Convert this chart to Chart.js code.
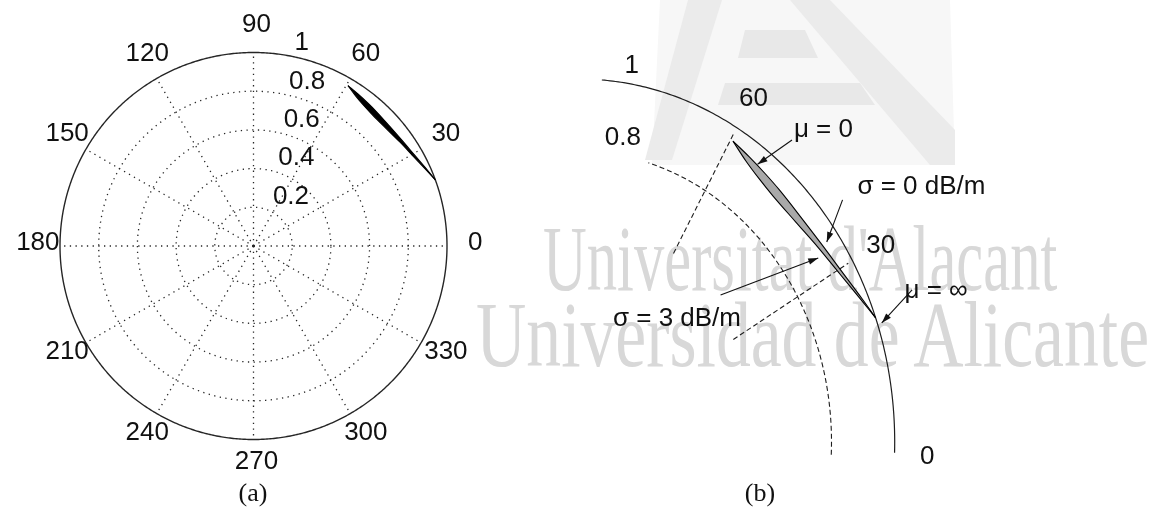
<!DOCTYPE html>
<html>
<head>
<meta charset="utf-8">
<script src="https://cdn.jsdelivr.net/npm/chart.js@4.4.0/dist/chart.umd.min.js"></script>
<style>
  body { margin: 0; background: #fff; width: 1153px; height: 513px; position: relative; overflow: hidden; }
  .wm { position: absolute; color: #d8d8d8; font-family: "Liberation Serif", "Times New Roman", serif; font-size: 94px;
        line-height: 1; white-space: nowrap; transform-origin: 0 0; }
  .cap { position: absolute; top: 480px; width: 80px; margin-left: -40px; text-align: center; color: #111;
         font-family: "Liberation Serif", "Times New Roman", serif; font-size: 26px; line-height: 1; }
  svg, canvas { position: absolute; top: 0; }
</style>
</head>
<body>
<svg width="1153" height="180" style="left:0">
  <polygon points="660,0 950,0 955,165 652,165" fill="#f7f7f7"/>
  <polygon points="688,0 722,0 672,160 645,160" fill="#ebebeb"/>
  <polygon points="790,0 830,0 955,130 955,165 930,165" fill="#ebebeb"/>
  <polygon points="745,30 805,30 818,58 738,58" fill="#e8e8e8"/>
  <polygon points="725,83 860,83 875,105 718,105" fill="#e8e8e8"/>
</svg>
<div class="wm" style="left:543px; top:211px; transform:scaleX(0.645)">Universitat d'Alacant</div>
<div class="wm" style="left:476px; top:287px; transform:scaleX(0.741)">Universidad de Alicante</div>
<canvas id="polarFull" width="560" height="480" style="left:0"></canvas>
<canvas id="polarZoom" width="593" height="480" style="left:560px"></canvas>
<div class="cap" style="left:253px">(a)</div>
<div class="cap" style="left:760px">(b)</div>

<script>
const DEG = Math.PI / 180;

// full polar view: angular ticks (deg) and radial ticks
const angleTicks = [0, 30, 60, 90, 120, 150, 180, 210, 240, 270, 300, 330];
const radialTicks = [0.2, 0.4, 0.6, 0.8, 1];

// ticks kept in the zoomed view
const zoomAngleTicks = [0, 30, 60];
const zoomRadialTicks = [0.8, 1];

// edges of the reflection locus, from mu = 0 (first point) to mu = infinity (last point)
const sigma0Angle = [59.5, 55.5, 51.5, 47.5, 41.4, 35.4, 29.4, 23.7, 20.0];
const sigma0Mag   = [0.962, 0.953, 0.946, 0.941, 0.937, 0.942, 0.956, 0.980, 1.000];
const sigma3Angle = [59.5, 55.7, 51.8, 47.7, 41.4, 35.3, 29.3, 23.6, 20.0];
const sigma3Mag   = [0.962, 0.938, 0.923, 0.915, 0.916, 0.928, 0.947, 0.976, 1.000];

const notes = ['μ = 0', 'σ = 0 dB/m', 'σ = 3 dB/m', 'μ = ∞'];

const FONT = '26px "Liberation Sans", Arial, Helvetica, sans-serif';

function toXY(angles, mags) {
  return angles.map((a, i) => ({ x: mags[i] * Math.cos(a * DEG), y: mags[i] * Math.sin(a * DEG) }));
}

// axis limits so that the pole sits at (cx, cy) and r = 1 spans rx / ry pixels
function frame(cx, cy, rx, ry, w, h) {
  return {
    x: { type: 'linear', display: false, min: -cx / rx, max: (w - cx) / rx },
    y: { type: 'linear', display: false, min: -(h - cy) / ry, max: cy / ry }
  };
}

function polarPx(chart, t, r) {
  const { x, y } = chart.scales;
  return [x.getPixelForValue(r * Math.cos(t * DEG)), y.getPixelForValue(r * Math.sin(t * DEG))];
}

function arc(chart, r, from, to, dash, width) {
  const ctx = chart.ctx;
  ctx.save();
  ctx.setLineDash(dash);
  ctx.lineWidth = width;
  ctx.beginPath();
  for (let t = from; t <= to + 1e-9; t += 0.5) {
    const [px, py] = polarPx(chart, t, r);
    t === from ? ctx.moveTo(px, py) : ctx.lineTo(px, py);
  }
  ctx.stroke();
  ctx.restore();
}

function spoke(chart, t, r0, r1, dash, width) {
  const ctx = chart.ctx;
  const a = polarPx(chart, t, r0), b = polarPx(chart, t, r1);
  ctx.save();
  ctx.setLineDash(dash);
  ctx.lineWidth = width;
  ctx.beginPath();
  ctx.moveTo(a[0], a[1]);
  ctx.lineTo(b[0], b[1]);
  ctx.stroke();
  ctx.restore();
}

function arrow(ctx, x0, y0, x1, y1) {
  const a = Math.atan2(y1 - y0, x1 - x0), L = 10, W = 3.2;
  ctx.beginPath();
  ctx.moveTo(x0, y0);
  ctx.lineTo(x1, y1);
  ctx.stroke();
  ctx.beginPath();
  ctx.moveTo(x1, y1);
  ctx.lineTo(x1 - L * Math.cos(a) + W * Math.sin(a), y1 - L * Math.sin(a) - W * Math.cos(a));
  ctx.lineTo(x1 - L * Math.cos(a) - W * Math.sin(a), y1 - L * Math.sin(a) + W * Math.cos(a));
  ctx.closePath();
  ctx.fill();
}

// MATLAB-style polar grid for the full view
const fullGrid = {
  id: 'fullGrid',
  beforeDatasetsDraw(chart) {
    const ctx = chart.ctx;
    const rmax = radialTicks[radialTicks.length - 1];
    ctx.save();
    ctx.strokeStyle = '#262626';
    radialTicks.forEach(r => {
      if (r === rmax) arc(chart, r, 0, 360, [], 1.4);
      else arc(chart, r, 0, 360, [1.3, 4.4], 1.3);
    });
    angleTicks.forEach(t => spoke(chart, t, 0, rmax, [1.3, 4.4], 1.3));

    ctx.fillStyle = '#111';
    ctx.font = FONT;
    ctx.textAlign = 'center';
    ctx.textBaseline = 'middle';
    angleTicks.forEach(t => {
      const [px, py] = polarPx(chart, t, 1.13 * rmax);
      ctx.fillText(String(t), px + 3, py - 3);
    });
    ctx.textAlign = 'left';
    ctx.textBaseline = 'alphabetic';
    radialTicks.forEach(r => {
      const [px, py] = polarPx(chart, 82, r);
      ctx.fillText(String(r), px + 14, py - 4);
    });
    ctx.restore();
  }
};

// partial grid and call-outs for the zoomed view
const zoomGrid = {
  id: 'zoomGrid',
  beforeDatasetsDraw(chart) {
    const ctx = chart.ctx;
    const dash = [5, 3];
    ctx.save();
    ctx.strokeStyle = '#1e1e1e';
    arc(chart, zoomRadialTicks[1], -1.7, 86, [], 1.2);
    arc(chart, zoomRadialTicks[0], -2.5, 74, dash, 1.1);
    spoke(chart, zoomAngleTicks[2], 0.6, 0.98, dash, 1.1);
    spoke(chart, zoomAngleTicks[1], 0.565, 0.985, dash, 1.1);

    ctx.fillStyle = '#111';
    ctx.font = FONT;
    ctx.textAlign = 'center';
    ctx.textBaseline = 'middle';
    zoomAngleTicks.forEach(t => {
      const [px, py] = polarPx(chart, t, 1.1);
      ctx.fillText(String(t), px + 1, py + (t === 0 ? 15 : 3));
    });
    zoomRadialTicks.forEach(r => {
      const [px, py] = polarPx(chart, 82, r);
      ctx.fillText(String(r), px + 9, py - 17);
    });
    ctx.restore();
  },
  afterDatasetsDraw(chart) {
    const { ctx, scales: { x, y } } = chart;
    const P = (u, v) => [x.getPixelForValue(u), y.getPixelForValue(v)];
    // tail, head and text anchor in plot units
    const callouts = [
      { tail: [0.675, 0.832], head: [0.566, 0.765], text: [0.681, 0.860], align: 'left' },
      { tail: [0.835, 0.667], head: [0.785, 0.551], text: [0.882, 0.702], align: 'left' },
      { tail: [0.449, 0.405], head: [0.758, 0.507], text: [0.311, 0.340], align: 'center' },
      { tail: [1.055, 0.419], head: [0.959, 0.328], text: [1.031, 0.417], align: 'left' }
    ];
    ctx.save();
    ctx.strokeStyle = '#111';
    ctx.fillStyle = '#111';
    ctx.lineWidth = 1.1;
    ctx.font = FONT;
    ctx.textBaseline = 'middle';
    callouts.forEach((c, i) => {
      const t = P(...c.tail), h = P(...c.head), p = P(...c.text);
      arrow(ctx, t[0], t[1], h[0], h[1]);
      ctx.textAlign = c.align;
      ctx.fillText(notes[i], p[0], p[1]);
    });
    ctx.restore();
  }
};

function locusChart(canvasId, scales, plugin, fillColor) {
  return new Chart(document.getElementById(canvasId), {
    type: 'scatter',
    data: {
      datasets: [{
        label: 'σ = 0 dB/m',
        data: toXY(sigma0Angle, sigma0Mag),
        showLine: true,
        tension: 0.35,
        borderColor: '#000',
        borderWidth: 1.1,
        pointRadius: 0,
        fill: false
      }, {
        label: 'σ = 3 dB/m',
        data: toXY(sigma3Angle, sigma3Mag),
        showLine: true,
        tension: 0.35,
        borderColor: '#000',
        borderWidth: 1.1,
        pointRadius: 0,
        backgroundColor: fillColor,
        fill: '-1'
      }]
    },
    options: {
      responsive: false,
      animation: false,
      events: [],
      layout: { padding: 0 },
      scales: scales,
      plugins: { legend: { display: false }, tooltip: { enabled: false } }
    },
    plugins: [plugin]
  });
}

locusChart('polarFull', frame(253.5, 246, 193.5, 193.5, 560, 480), fullGrid, '#000');
locusChart('polarZoom', frame(18.7, 442, 316, 363, 593, 480), zoomGrid, '#a9a9a9');
</script>
</body>
</html>
